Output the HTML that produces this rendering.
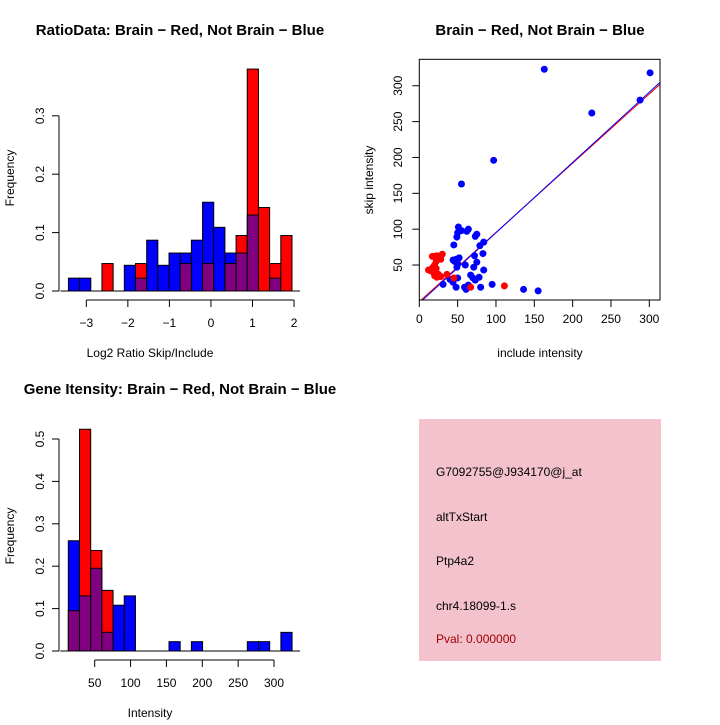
<!DOCTYPE html>
<html><head><meta charset="utf-8"><style>
body{margin:0;background:#fff;}
svg text{font-family:"Liberation Sans",sans-serif;}
</style></head><body>
<svg id="s" width="720" height="720" viewBox="0 0 720 720" xmlns="http://www.w3.org/2000/svg">
<rect width="720" height="720" fill="#fff"/>
</svg>
<script>
// Ratio histogram data (20 bins)
const ratioRed  = [0,0,0,0.047,0,0,0.047,0,0,0,0.047,0,0.047,0,0.047,0.095,0.38,0.143,0.047,0.095];
const ratioBlue = [0.022,0.022,0,0,0,0.044,0.022,0.087,0.044,0.065,0.065,0.087,0.152,0.109,0.065,0.065,0.13,0,0.022,0];
const ratioStart = -3.43, ratioBinW = 0.269;
const ratioXTicks = [-3,-2,-1,0,1,2];
const ratioYTicks = [0,0.1,0.2,0.3];
// Intensity histogram data
const intRed  = [0.095,0.523,0.237,0.143,0,0,0,0,0,0,0,0,0,0,0,0,0,0,0,0];
const intBlue = [0.26,0.13,0.195,0.044,0.108,0.13,0,0,0,0.022,0,0.022,0,0,0,0,0.022,0.022,0,0.044];
const intStart = 13.2, intBinW = 15.6;
const intXTicks = [50,100,150,200,250,300];
const intYTicks = [0,0.1,0.2,0.3,0.4,0.5];
// Scatter data
const blueX = [163,301,288,225,97,55,51,50,55,62,64,73,75,49,45,79,84,83,72,44,48,52,46,50,49,60,75,71,84,67,70,73,78,40,44,50,31,48,59,61,64,80,95,136,155,42];
const blueY = [323,318,280,262,196,163,103,95,98,97,100,90,93,89,78,77,82,66,63,57,58,60,55,52,47,50,54,47,43,36,32,29,33,30,26,32,23,19,19,16,22,19,23,16,14,30];
const redX = [12,15,18,17,20,23,26,28,30,22,20,18,20,23,25,28,36,45,67,111,22,15];
const redY = [43,42,47,62,62,63,60,58,65,55,50,40,35,33,37,34,37,32,19,21,45,44];
const scXTicks = [0,50,100,150,200,250,300];
const scYTicks = [50,100,150,200,250,300];
const blueFit = [0.98,-3];
const redFit = [0.965,-1];

const S=document.getElementById('s');
function el(tag,attrs,parent){const e=document.createElementNS('http://www.w3.org/2000/svg',tag);for(const k in attrs)e.setAttribute(k,attrs[k]);(parent||S).appendChild(e);return e;}
function txt(x,y,s,opt,parent){const t=el('text',Object.assign({x:x,y:y,'font-size':12,'text-anchor':'middle',fill:'#000'},opt||{}),parent);t.textContent=s;return t;}

function hist(cfg){
  const g=el('g',{});
  
  
  const X=v=>cfg.x0px+(v-cfg.x0v)*cfg.xs, Y=v=>cfg.y0px-v*cfg.ys;
  const bins=el('g',{},g);
  
  
  for(let i=0;i<cfg.red.length;i++){
    const r=cfg.red[i],b=cfg.blue[i];
    const xa=X(cfg.start+i*cfg.bw), xb=X(cfg.start+(i+1)*cfg.bw);
    const hi=Math.max(r,b), lo=Math.min(r,b);
    if(hi>0){const e=el('rect',{x:xa,y:Y(hi),width:xb-xa,height:Y(0)-Y(hi),fill:r>=b?'#ff0000':'#0000ff',stroke:'#000','stroke-width':1},bins);
      
      }
    if(lo>0){const e=el('rect',{x:xa,y:Y(lo),width:xb-xa,height:Y(0)-Y(lo),fill:'#800080',stroke:'#000','stroke-width':1},bins);
      
      }
  }
  el('line',{x1:X(cfg.start)-8,x2:X(cfg.start+cfg.red.length*cfg.bw)+8,y1:Y(0),y2:Y(0),stroke:'#000'},g);
  const ya=el('g',{},g);
  
  
  const yt=cfg.yt;
  el('line',{x1:cfg.yaxX,x2:cfg.yaxX,y1:Y(yt[0]),y2:Y(yt[yt.length-1]),stroke:'#000'},ya);
  yt.forEach(v=>{el('line',{x1:cfg.yaxX-7,x2:cfg.yaxX,y1:Y(v),y2:Y(v),stroke:'#000'},ya);
    txt(cfg.yaxX-15,Y(v),v.toFixed(1),{transform:`rotate(-90 ${cfg.yaxX-15} ${Y(v)})`},ya);});
  const xa=el('g',{},g);
  
  
  const xt=cfg.xt;
  el('line',{x1:X(xt[0]),x2:X(xt[xt.length-1]),y1:cfg.xaxY,y2:cfg.xaxY,stroke:'#000'},xa);
  xt.forEach(v=>{el('line',{x1:X(v),x2:X(v),y1:cfg.xaxY,y2:cfg.xaxY+7,stroke:'#000'},xa);
    txt(X(v),cfg.xaxY+27,String(v).replace('-','\u2212'),{},xa);});
  let t=txt(cfg.titleX,cfg.titleY,cfg.title,{'font-size':15,'font-weight':'bold'},g);
  
  t=txt(150,cfg.xlabY,cfg.xlab,{},g);
  
  t=txt(14,cfg.ylabY,'Frequency',{transform:`rotate(-90 14 ${cfg.ylabY})`},g);
  
}
hist({name:'ratio-histogram',red:ratioRed,blue:ratioBlue,start:ratioStart,bw:ratioBinW,x0px:86.3,x0v:-3,xs:41.55,y0px:291,ys:584,yaxX:59,xaxY:300,xt:ratioXTicks,yt:ratioYTicks,title:'RatioData: Brain \u2212 Red, Not Brain \u2212 Blue',titleX:180,titleY:35,xlab:'Log2 Ratio Skip/Include',xlabY:357,ylabY:178});
hist({name:'intensity-histogram',red:intRed,blue:intBlue,start:intStart,bw:intBinW,x0px:94.7,x0v:50,xs:0.7172,y0px:651,ys:424,yaxX:59,xaxY:660,xt:intXTicks,yt:intYTicks,title:'Gene Itensity: Brain \u2212 Red, Not Brain \u2212 Blue',titleX:180,titleY:394,xlab:'Intensity',xlabY:717,ylabY:536});

(function(){
  const g=el('g',{});
  
  
  const X=v=>419.3+v*0.7667, Y=v=>300.9-v*0.7172;
  const L=419.3,R=660,T=59.3,B=300;
  el('defs',{},g).innerHTML='<clipPath id="cp"><rect x="419.3" y="59.3" width="240.7" height="240.7"/></clipPath>';
  const lg=el('g',{'clip-path':'url(#cp)'},g);
  let ln=el('line',{x1:X(0),y1:Y(redFit[1]),x2:X(320),y2:Y(redFit[0]*320+redFit[1]),stroke:'#ff0000'},lg);
  
  ln=el('line',{x1:X(0),y1:Y(blueFit[1]),x2:X(320),y2:Y(blueFit[0]*320+blueFit[1]),stroke:'#0000ff'},lg);
  
  blueX.forEach((x,i)=>{const c=el('circle',{cx:X(x),cy:Y(blueY[i]),r:3.5,fill:'#0000ff'},lg);
    });
  redX.forEach((x,i)=>{const c=el('circle',{cx:X(x),cy:Y(redY[i]),r:3.5,fill:'#ff0000'},lg);
    });
  el('rect',{x:L,y:T,width:R-L,height:B-T,fill:'none',stroke:'#000'},g);
  scXTicks.forEach(v=>{el('line',{x1:X(v),x2:X(v),y1:B,y2:B+7,stroke:'#000'},g);txt(X(v),323,String(v),{},g);});
  scYTicks.forEach(v=>{el('line',{x1:L-7,x2:L,y1:Y(v),y2:Y(v),stroke:'#000'},g);txt(402,Y(v),String(v),{transform:`rotate(-90 402 ${Y(v)})`},g);});
  let t=txt(540,35,'Brain \u2212 Red, Not Brain \u2212 Blue',{'font-size':15,'font-weight':'bold'},g);
  
  t=txt(540,357,'include intensity',{},g);
  
  t=txt(373,180,'skip intensity',{transform:'rotate(-90 373 180)'},g);
  
})();
</script>
<svg width="720" height="720" style="position:absolute;left:0;top:0" xmlns="http://www.w3.org/2000/svg">
<rect x="419" y="419" width="242" height="242" fill="#f3c2cd"/>
<g font-family="Liberation Sans, sans-serif" font-size="12">
<text x="436" y="476">G7092755@J934170@j_at</text>
<text x="436" y="521">altTxStart</text>
<text x="436" y="565">Ptp4a2</text>
<text x="436" y="610">chr4.18099-1.s</text>
<text x="436" y="643" fill="#a00000">Pval: 0.000000</text>
</g></svg>
</body></html>
